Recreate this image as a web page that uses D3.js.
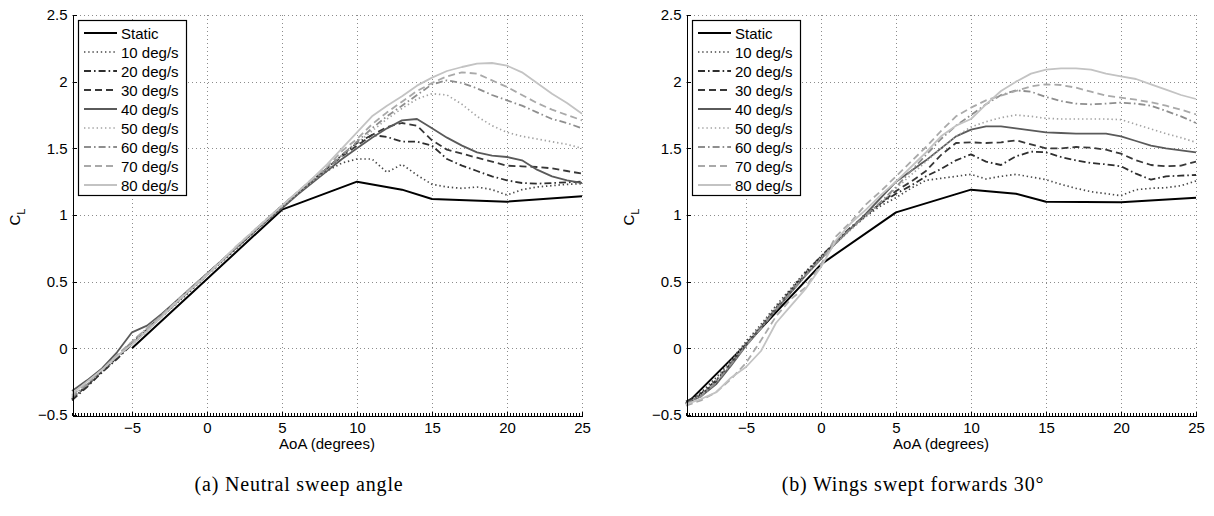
<!DOCTYPE html>
<html>
<head>
<meta charset="utf-8">
<script src="https://cdn.jsdelivr.net/npm/d3@7"></script>
<style>
  body { margin: 0; background: #fff; }
  svg { display: block; }
  .mat { font-family: "Liberation Sans", Arial, Helvetica, sans-serif; }
  .cap { font-family: "Liberation Serif", "Times New Roman", serif; }
</style>
</head>
<body>
<svg id="fig" width="1214" height="516"></svg>
<script>
// ---- data -------------------------------------------------------------
const aoa = [-9,-8,-7,-6,-5,-4,-3,-2,-1,0,1,2,3,4,5,6,7,8,9,10,11,12,13,14,15,16,17,18,19,20,21,22,23,24,25];

const seriesNames = ["Static","10 deg/s","20 deg/s","30 deg/s","40 deg/s","50 deg/s","60 deg/s","70 deg/s","80 deg/s"];

const xTicks = [-5, 0, 5, 10, 15, 20, 25];
const yTicks = [-0.5, 0, 0.5, 1, 1.5, 2, 2.5];
const xTickLabels = ["\u22125", "0", "5", "10", "15", "20", "25"];
const yTickLabels = ["\u22120.5", "0", "0.5", "1", "1.5", "2", "2.5"];

const captions = ["(a)  Neutral sweep angle", "(b)  Wings swept forwards 30\u00B0"];

// (a) neutral sweep
const staticAoaA = [-5, 0, 5, 10, 13, 15, 20, 25];
const staticClA  = [0.00, 0.52, 1.04, 1.25, 1.19, 1.12, 1.10, 1.14];

const clA10 = [-0.38,-0.28,-0.18,-0.07,0.03,0.13,0.24,0.34,0.44,0.55,0.65,0.75,0.86,0.96,1.06,1.15,1.25,1.33,1.39,1.42,1.42,1.32,1.38,1.30,1.23,1.21,1.20,1.21,1.19,1.15,1.19,1.21,1.22,1.23,1.235];
const clA20 = [-0.39,-0.29,-0.18,-0.08,0.03,0.14,0.24,0.35,0.45,0.55,0.66,0.76,0.86,0.96,1.06,1.16,1.25,1.35,1.45,1.54,1.60,1.585,1.55,1.55,1.52,1.42,1.37,1.33,1.29,1.26,1.24,1.235,1.24,1.245,1.25];
const clA30 = [-0.38,-0.28,-0.17,-0.07,0.04,0.14,0.25,0.35,0.45,0.56,0.66,0.76,0.86,0.97,1.07,1.16,1.26,1.35,1.44,1.52,1.60,1.66,1.69,1.67,1.56,1.49,1.46,1.43,1.40,1.37,1.365,1.36,1.35,1.33,1.31];
const clA40 = [-0.32,-0.24,-0.15,-0.03,0.12,0.17,0.26,0.36,0.46,0.56,0.66,0.76,0.86,0.96,1.05,1.15,1.24,1.33,1.42,1.50,1.58,1.65,1.71,1.72,1.65,1.58,1.52,1.47,1.445,1.435,1.41,1.34,1.29,1.26,1.24];
const clA50 = [-0.36,-0.27,-0.17,-0.06,0.04,0.14,0.24,0.34,0.45,0.55,0.65,0.76,0.86,0.96,1.06,1.16,1.25,1.34,1.44,1.54,1.63,1.72,1.80,1.87,1.91,1.90,1.83,1.74,1.67,1.62,1.59,1.57,1.55,1.53,1.50];
const clA60 = [-0.37,-0.27,-0.16,-0.06,0.05,0.15,0.25,0.35,0.46,0.56,0.66,0.76,0.87,0.97,1.07,1.17,1.26,1.35,1.45,1.55,1.65,1.74,1.82,1.90,1.98,2.01,1.99,1.95,1.90,1.86,1.82,1.77,1.72,1.69,1.65];
const clA70 = [-0.35,-0.26,-0.16,-0.05,0.05,0.15,0.25,0.36,0.46,0.56,0.66,0.77,0.87,0.97,1.07,1.17,1.27,1.36,1.48,1.57,1.68,1.77,1.85,1.93,1.99,2.04,2.07,2.06,2.01,1.96,1.90,1.84,1.79,1.75,1.71];
const clA80 = [-0.34,-0.25,-0.16,-0.06,0.03,0.13,0.24,0.35,0.45,0.55,0.66,0.77,0.87,0.97,1.07,1.17,1.27,1.38,1.50,1.62,1.74,1.82,1.89,1.97,2.03,2.08,2.11,2.135,2.14,2.12,2.07,1.99,1.91,1.84,1.76];

// (b) swept forwards 30 deg
const staticAoaB = [-9, -5, 0, 5, 10, 13, 15, 20, 25];
const staticClB  = [-0.42, 0.03, 0.63, 1.02, 1.19, 1.16, 1.10, 1.095, 1.13];

const clB10 = [-0.41,-0.33,-0.22,-0.09,0.05,0.18,0.32,0.45,0.58,0.69,0.80,0.90,0.99,1.07,1.13,1.20,1.26,1.275,1.29,1.305,1.27,1.29,1.305,1.285,1.265,1.23,1.20,1.175,1.16,1.145,1.19,1.20,1.205,1.22,1.255];
const clB20 = [-0.40,-0.34,-0.24,-0.11,0.03,0.16,0.30,0.44,0.57,0.69,0.80,0.91,1.00,1.09,1.16,1.22,1.29,1.345,1.41,1.455,1.40,1.375,1.44,1.475,1.47,1.435,1.41,1.39,1.38,1.365,1.31,1.265,1.29,1.295,1.30];
const clB30 = [-0.41,-0.35,-0.25,-0.11,0.03,0.16,0.30,0.43,0.56,0.68,0.80,0.90,1.00,1.09,1.18,1.25,1.33,1.45,1.54,1.545,1.54,1.545,1.56,1.53,1.50,1.50,1.51,1.505,1.49,1.46,1.41,1.375,1.365,1.37,1.40];
const clB40 = [-0.41,-0.36,-0.27,-0.13,0.02,0.15,0.29,0.42,0.55,0.67,0.79,0.90,1.01,1.13,1.25,1.33,1.41,1.50,1.59,1.64,1.665,1.665,1.65,1.635,1.62,1.615,1.61,1.61,1.61,1.59,1.555,1.52,1.50,1.485,1.47];
const clB50 = [-0.42,-0.35,-0.24,-0.10,0.04,0.17,0.31,0.44,0.57,0.68,0.79,0.89,0.99,1.09,1.20,1.30,1.40,1.50,1.59,1.66,1.70,1.73,1.75,1.74,1.725,1.72,1.72,1.72,1.72,1.715,1.68,1.645,1.61,1.58,1.545];
const clB60 = [-0.42,-0.36,-0.26,-0.12,0.02,0.15,0.29,0.42,0.55,0.67,0.79,0.90,1.00,1.10,1.21,1.33,1.45,1.57,1.67,1.75,1.83,1.90,1.935,1.925,1.885,1.855,1.835,1.83,1.835,1.843,1.835,1.82,1.78,1.74,1.69];
const clB70 = [-0.43,-0.39,-0.33,-0.23,-0.11,0.06,0.24,0.37,0.46,0.63,0.84,0.95,1.08,1.18,1.29,1.40,1.51,1.63,1.74,1.805,1.86,1.895,1.93,1.965,1.98,1.975,1.955,1.925,1.895,1.88,1.865,1.845,1.82,1.79,1.755];
const clB80 = [-0.42,-0.38,-0.33,-0.22,-0.14,-0.02,0.19,0.32,0.45,0.61,0.81,0.94,1.04,1.15,1.25,1.36,1.47,1.59,1.67,1.72,1.83,1.93,2.00,2.06,2.09,2.10,2.10,2.09,2.06,2.04,2.02,1.98,1.94,1.90,1.87];

// ---- styles -----------------------------------------------------------
const lineStyles = [
  { color: "#000000", dash: null,             width: 2.0 },
  { color: "#474747", dash: "1.4,2.8",        width: 1.7 },
  { color: "#2e2e2e", dash: "7,3,1.6,3",      width: 1.8 },
  { color: "#383838", dash: "7,4",            width: 1.8 },
  { color: "#5a5a5a", dash: null,             width: 1.8 },
  { color: "#a3a3a3", dash: "1.4,2.8",        width: 1.7 },
  { color: "#8e8e8e", dash: "7,3,1.6,3",      width: 1.8 },
  { color: "#a9a9a9", dash: "7,4",            width: 1.8 },
  { color: "#c3c3c3", dash: null,             width: 1.8 }
];

const panelsData = [
  { staticX: staticAoaA, staticY: staticClA, dyn: [clA10, clA20, clA30, clA40, clA50, clA60, clA70, clA80] },
  { staticX: staticAoaB, staticY: staticClB, dyn: [clB10, clB20, clB30, clB40, clB50, clB60, clB70, clB80] }
];

// ---- layout -----------------------------------------------------------
const layout = [
  { left: 72,  right: 582,  top: 15, bottom: 415, capX: 299 },
  { left: 686, right: 1196, top: 15, bottom: 415, capX: 913 }
];

const svg = d3.select("#fig");

panelsData.forEach((pd, pi) => {
  const L = layout[pi];
  const x = d3.scaleLinear().domain([-9, 25]).range([L.left, L.right]);
  const y = d3.scaleLinear().domain([-0.5, 2.5]).range([L.bottom, L.top]);
  const g = svg.append("g");

  // dotted grid
  const grid = g.append("g").attr("stroke", "#8c8c8c").attr("stroke-width", 1)
    .attr("stroke-dasharray", "1,3").attr("shape-rendering", "crispEdges");
  xTicks.forEach(t => grid.append("line")
    .attr("x1", Math.round(x(t)) + 0.5).attr("x2", Math.round(x(t)) + 0.5)
    .attr("y1", L.top).attr("y2", L.bottom));
  yTicks.filter(t => t > -0.5).forEach(t => grid.append("line")
    .attr("x1", L.left).attr("x2", L.right)
    .attr("y1", Math.round(y(t)) + 0.5).attr("y2", Math.round(y(t)) + 0.5));

  // curves
  const line = d3.line().x(d => x(d[0])).y(d => y(d[1]));
  const curves = g.append("g").attr("fill", "none");
  const allSeries = [d3.zip(pd.staticX, pd.staticY)].concat(pd.dyn.map(s => d3.zip(aoa, s)));
  allSeries.forEach((pts, i) => {
    const st = lineStyles[i];
    curves.append("path")
      .attr("d", line(pts))
      .attr("stroke", st.color)
      .attr("stroke-width", st.width)
      .attr("stroke-dasharray", st.dash)
      .attr("stroke-linejoin", "round");
  });

  // axes (left and bottom only, ticks pointing inward)
  const yAxis = d3.axisLeft(y).tickValues(yTicks).tickSizeInner(-4).tickSizeOuter(0)
    .tickFormat((d, i) => yTickLabels[i]).tickPadding(5);
  const gy = g.append("g").attr("transform", `translate(${L.left + 0.5},0)`).call(yAxis);
  const xAxis = d3.axisBottom(x).tickValues(xTicks).tickSizeInner(-4).tickSizeOuter(0)
    .tickFormat((d, i) => xTickLabels[i]).tickPadding(7);
  const gx = g.append("g").attr("transform", `translate(0,${L.bottom + 0.5})`).call(xAxis);
  [gx, gy].forEach(a => {
    a.selectAll("path").attr("stroke", "#000").attr("shape-rendering", "crispEdges");
    a.selectAll("line").attr("stroke", "#000").attr("shape-rendering", "crispEdges");
    a.selectAll("text").attr("class", "mat").attr("font-size", 15).attr("fill", "#000")
      .style("font-family", "'Liberation Sans', Arial, sans-serif");
  });

  // minor ticks along the AoA axis
  const minor = g.append("g").attr("stroke", "#000").attr("shape-rendering", "crispEdges");
  x.ticks(136).forEach(t => {
    const px = Math.round(x(t)) + 0.5;
    minor.append("line").attr("x1", px).attr("x2", px)
      .attr("y1", L.bottom + 0.5).attr("y2", L.bottom - 2);
  });

  // axis labels
  g.append("text").attr("class", "mat").attr("font-size", 15)
    .attr("x", (L.left + L.right) / 2).attr("y", 449).attr("text-anchor", "middle")
    .text("AoA (degrees)");
  const yl = g.append("text").attr("class", "mat").attr("font-size", 15)
    .attr("transform", `translate(${L.left - 52},${(L.top + L.bottom) / 2 + 2}) rotate(-90)`)
    .attr("text-anchor", "middle");
  yl.append("tspan").text("C");
  yl.append("tspan").attr("font-size", 11).attr("dy", 5).text("L");

  // legend
  const lg = g.append("g").attr("transform", `translate(${L.left + 6},20)`);
  lg.append("rect").attr("x", 0.5).attr("y", 0.5).attr("width", 108).attr("height", 175)
    .attr("fill", "#fff").attr("stroke", "#000").attr("stroke-width", 1.2);
  seriesNames.forEach((name, i) => {
    const st = lineStyles[i];
    const ry = 13 + 19 * i;
    lg.append("line").attr("x1", 6).attr("x2", 39).attr("y1", ry).attr("y2", ry)
      .attr("stroke", st.color).attr("stroke-width", st.width)
      .attr("stroke-dasharray", st.dash);
    lg.append("text").attr("class", "mat").attr("font-size", 15)
      .attr("x", 43).attr("y", ry + 5.5).text(name);
  });

  // subfigure caption
  svg.append("text").attr("class", "cap").attr("font-size", 20)
    .attr("letter-spacing", 0.8)
    .attr("x", L.capX).attr("y", 491).attr("text-anchor", "middle")
    .text(captions[pi]);
});
</script>
</body>
</html>
